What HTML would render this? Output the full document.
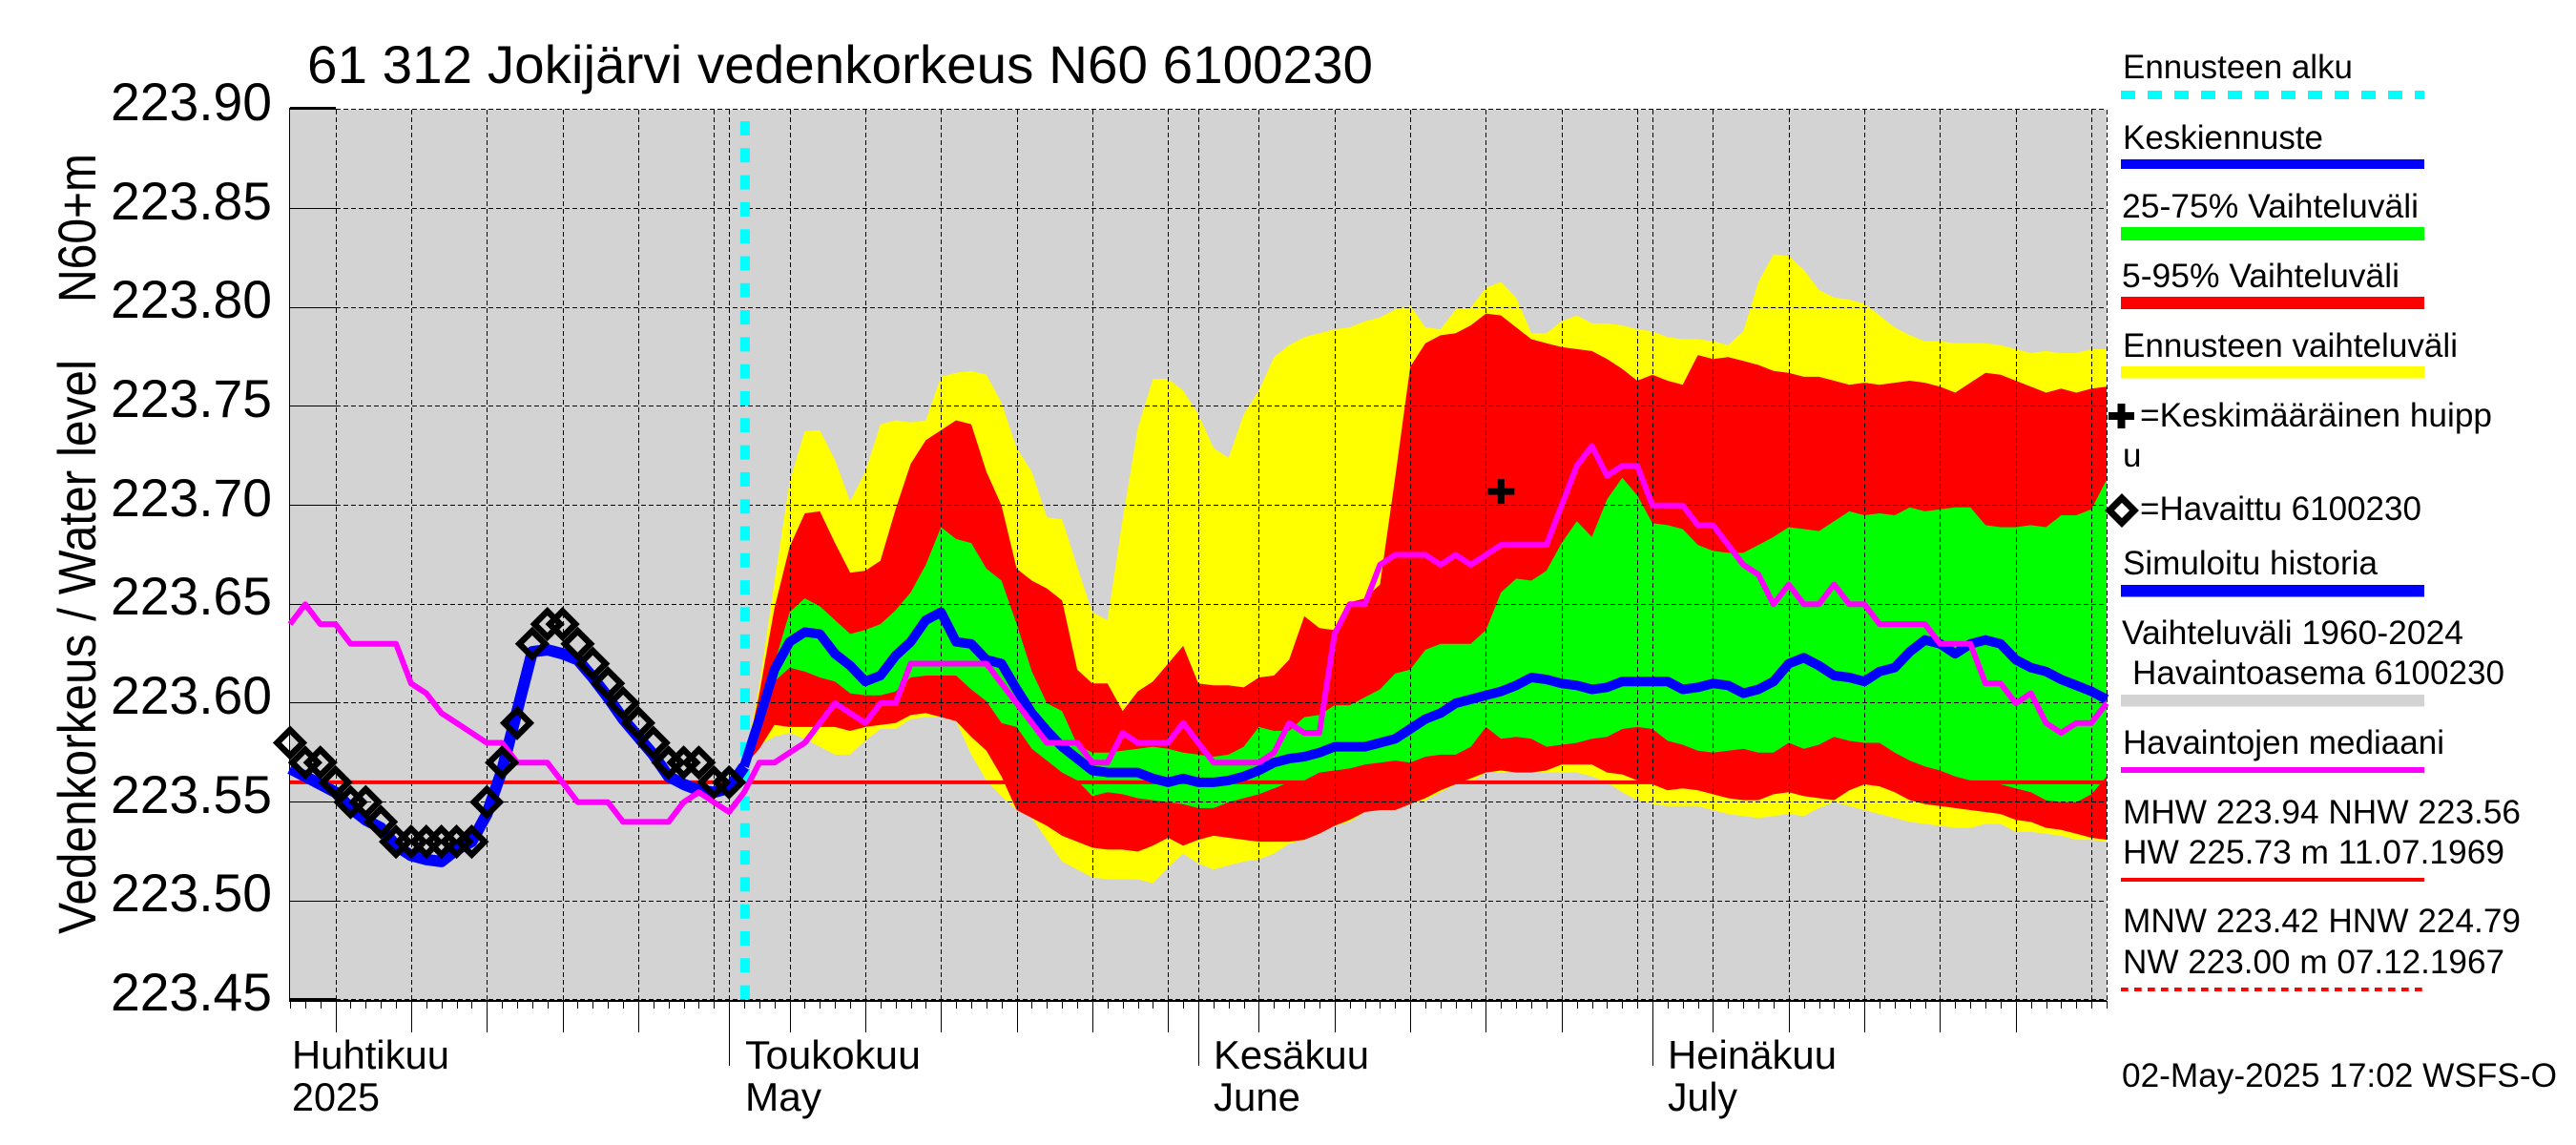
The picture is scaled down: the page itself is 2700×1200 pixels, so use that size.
<!DOCTYPE html>
<html lang="fi">
<head>
<meta charset="utf-8">
<title>61 312 Jokijärvi vedenkorkeus N60 6100230</title>
<style>
html,body{margin:0;padding:0;background:#fff;}
svg{display:block;font-family:"Liberation Sans",sans-serif;fill:#000;}
</style>
</head>
<body>
<svg id="chart" xmlns="http://www.w3.org/2000/svg" width="2700" height="1200" viewBox="0 0 2700 1200">
  <rect x="0" y="0" width="2700" height="1200" fill="#fff"/>
  <rect x="304" y="115" width="1904" height="933" fill="#d3d3d3"/>
  <g id="bands"></g>
  <g id="grid"></g>
  <g id="axes"></g>
  <g id="series"></g>

  <text x="322" y="87" font-size="56" textLength="1117" lengthAdjust="spacingAndGlyphs">61 312 Jokijärvi vedenkorkeus N60 6100230</text>
  <text transform="translate(100,979) rotate(-90) scale(1,1.13)" font-size="49" textLength="602" lengthAdjust="spacingAndGlyphs">Vedenkorkeus / Water level</text>
  <text transform="translate(100,317) rotate(-90) scale(1,1.13)" font-size="49" textLength="156" lengthAdjust="spacingAndGlyphs">N60+m</text>

  <g font-size="42">
    <text x="306" y="1120" textLength="165" lengthAdjust="spacingAndGlyphs">Huhtikuu</text>
    <text x="306" y="1164" textLength="92" lengthAdjust="spacingAndGlyphs">2025</text>
    <text x="781" y="1120" textLength="184" lengthAdjust="spacingAndGlyphs">Toukokuu</text>
    <text x="781" y="1164" textLength="80" lengthAdjust="spacingAndGlyphs">May</text>
    <text x="1272" y="1120" textLength="163" lengthAdjust="spacingAndGlyphs">Kesäkuu</text>
    <text x="1272" y="1164" textLength="91" lengthAdjust="spacingAndGlyphs">June</text>
    <text x="1748" y="1120" textLength="177" lengthAdjust="spacingAndGlyphs">Heinäkuu</text>
    <text x="1748" y="1164" textLength="73" lengthAdjust="spacingAndGlyphs">July</text>
  </g>

  <g font-size="35">
    <text x="2225" y="82" textLength="241" lengthAdjust="spacingAndGlyphs">Ennusteen alku</text>
    <line x1="2223" y1="99.5" x2="2541" y2="99.5" stroke="#00ffff" stroke-width="9" stroke-dasharray="15 13"/>
    <text x="2225" y="156" textLength="210" lengthAdjust="spacingAndGlyphs">Keskiennuste</text>
    <rect x="2223" y="167" width="318" height="10" fill="#0000ff"/>
    <text x="2224" y="228" textLength="311" lengthAdjust="spacingAndGlyphs">25-75% Vaihteluväli</text>
    <rect x="2223" y="238" width="318" height="14" fill="#00ff00"/>
    <text x="2224" y="301" textLength="291" lengthAdjust="spacingAndGlyphs">5-95% Vaihteluväli</text>
    <rect x="2223" y="311" width="318" height="13" fill="#ff0000"/>
    <text x="2225" y="374" textLength="351" lengthAdjust="spacingAndGlyphs">Ennusteen vaihteluväli</text>
    <rect x="2223" y="384" width="318" height="12.5" fill="#ffff00"/>
    <path d="M2210 436H2237M2223.5 423V449" stroke="#000" stroke-width="8" fill="none"/>
    <text x="2243" y="447" textLength="369" lengthAdjust="spacingAndGlyphs">=Keskimääräinen huipp</text>
    <text x="2225" y="489">u</text>
    <path d="M2224 522L2237 535L2224 548L2211 535Z" stroke="#000" stroke-width="7" fill="none"/>
    <text x="2243" y="545" textLength="295" lengthAdjust="spacingAndGlyphs">=Havaittu 6100230</text>
    <text x="2225" y="602" textLength="267" lengthAdjust="spacingAndGlyphs">Simuloitu historia</text>
    <rect x="2223" y="613" width="318" height="12.5" fill="#0000ff"/>
    <text x="2224" y="675" textLength="358" lengthAdjust="spacingAndGlyphs">Vaihteluväli 1960-2024</text>
    <text x="2235" y="717" textLength="390" lengthAdjust="spacingAndGlyphs">Havaintoasema 6100230</text>
    <rect x="2223" y="728" width="318" height="12.5" fill="#d3d3d3"/>
    <text x="2225" y="790" textLength="337" lengthAdjust="spacingAndGlyphs">Havaintojen mediaani</text>
    <rect x="2223" y="804" width="318" height="6" fill="#ff00ff"/>
    <text x="2225" y="863" textLength="417" lengthAdjust="spacingAndGlyphs">MHW 223.94 NHW 223.56</text>
    <text x="2225" y="905" textLength="400" lengthAdjust="spacingAndGlyphs">HW 225.73 m 11.07.1969</text>
    <rect x="2223" y="920" width="318" height="4" fill="#ff0000"/>
    <text x="2225" y="977" textLength="417" lengthAdjust="spacingAndGlyphs">MNW 223.42 HNW 224.79</text>
    <text x="2225" y="1020" textLength="400" lengthAdjust="spacingAndGlyphs">NW 223.00 m 07.12.1967</text>
    <line x1="2223" y1="1037" x2="2541" y2="1037" stroke="#ff0000" stroke-width="4" stroke-dasharray="7.7 6.3"/>
    <text x="2224" y="1139" textLength="456" lengthAdjust="spacingAndGlyphs">02-May-2025 17:02 WSFS-O</text>
  </g>
</svg>

<script>
// ---- chart data: days counted from 2 April 2025 (day 0) ----
const yTickLabels = ["223.90","223.85","223.80","223.75","223.70","223.65","223.60","223.55","223.50","223.45"];
const gridDays = [3,8,13,18,23,28,29,33,38,43,48,53,58,60,64,69,74,79,84,89,90,94,99,104,109,114,119,120];
const monthDays = [29,60,90];
const shortTickDays = [28,89,119,120];
const dayCount = 121;
const forecastStartDay = 30;
const referenceLevel = 223.56;
const peakDay = 80;
const peakLevel = 223.707;

const observed = [223.58,223.57,223.57,223.56,223.55,223.55,223.54,223.53,223.53,223.53,
  223.53,223.53,223.53,223.55,223.57,223.59,223.63,223.64,223.64,223.63,
  223.62,223.61,223.60,223.59,223.58,223.57,223.57,223.57,223.56,223.56];

const simulated = [223.567,223.563,223.559,223.555,223.547,223.541,223.537,223.528,223.523,223.521,
  223.520,223.526,223.530,223.544,223.566,223.596,223.626,223.627,223.625,223.622,
  223.613,223.603,223.592,223.583,223.574,223.563,223.559,223.556,223.555,223.557,223.568];

const median = [223.64,223.65,223.64,223.64,223.63,223.63,223.63,223.63,223.61,223.605,
  223.595,223.59,223.585,223.58,223.58,223.57,223.57,223.57,223.56,223.55,
  223.55,223.55,223.54,223.54,223.54,223.54,223.55,223.555,223.55,223.545,
  223.555,223.57,223.57,223.575,223.58,223.59,223.60,223.595,223.59,223.60,
  223.60,223.62,223.62,223.62,223.62,223.62,223.62,223.61,223.60,223.59,
  223.58,223.58,223.58,223.57,223.57,223.585,223.58,223.58,223.58,223.59,
  223.58,223.57,223.57,223.57,223.57,223.575,223.59,223.585,223.585,223.635,
  223.65,223.65,223.67,223.675,223.675,223.675,223.67,223.675,223.67,223.675,
  223.68,223.68,223.68,223.68,223.70,223.72,223.73,223.715,223.72,223.72,
  223.70,223.70,223.70,223.69,223.69,223.68,223.67,223.665,223.65,223.66,
  223.65,223.65,223.66,223.65,223.65,223.64,223.64,223.64,223.64,223.63,
  223.63,223.63,223.61,223.61,223.60,223.605,223.59,223.585,223.59,223.59,223.60];

// forecast arrays start at forecastStartDay
const meanForecast = [223.568,223.592,223.617,223.631,223.636,223.635,223.625,223.619,223.611,223.614,
  223.624,223.631,223.642,223.646,223.631,223.630,223.622,223.620,223.607,223.595,
  223.586,223.578,223.572,223.566,223.565,223.565,223.565,223.562,223.560,223.562,
  223.560,223.560,223.561,223.563,223.566,223.570,223.572,223.573,223.575,223.578,
  223.578,223.578,223.580,223.582,223.587,223.592,223.595,223.600,223.602,223.604,
  223.606,223.609,223.613,223.612,223.610,223.609,223.607,223.608,223.611,223.611,
  223.611,223.611,223.607,223.608,223.610,223.609,223.605,223.607,223.611,223.620,
  223.623,223.619,223.614,223.613,223.611,223.616,223.618,223.626,223.632,223.630,
  223.625,223.630,223.632,223.630,223.622,223.618,223.616,223.612,223.609,223.606,223.602];

const forecastMax = [223.568,223.609,223.661,223.712,223.7375,223.738,223.723,223.702,223.717,223.741,
  223.743,223.742,223.743,223.765,223.767,223.768,223.766,223.752,223.729,223.717,
  223.694,223.693,223.669,223.646,223.642,223.693,223.739,223.764,223.764,223.758,
  223.746,223.729,223.724,223.746,223.758,223.775,223.781,223.785,223.787,223.789,
  223.790,223.793,223.795,223.799,223.801,223.790,223.789,223.799,223.800,223.810,
  223.813,223.805,223.787,223.787,223.793,223.796,223.792,223.792,223.791,223.789,
  223.788,223.785,223.784,223.784,223.783,223.781,223.788,223.813,223.827,223.826,
  223.819,223.809,223.805,223.804,223.802,223.796,223.790,223.786,223.783,223.783,
  223.782,223.782,223.782,223.781,223.779,223.777,223.778,223.777,223.777,223.779,223.779];

const forecastMin = [223.568,223.579,223.583,223.585,223.582,223.578,223.574,223.574,223.581,223.587,
  223.587,223.592,223.593,223.593,223.591,223.574,223.561,223.553,223.546,223.542,
  223.531,223.520,223.516,223.512,223.511,223.511,223.511,223.509,223.517,223.524,
  223.519,223.516,223.518,223.520,223.521,223.524,223.529,223.531,223.534,223.538,
  223.540,223.545,223.546,223.546,223.549,223.551,223.555,223.559,223.560,223.565,
  223.565,223.565,223.565,223.565,223.565,223.565,223.563,223.560,223.555,223.551,
  223.549,223.548,223.548,223.548,223.546,223.544,223.543,223.542,223.543,223.544,
  223.543,223.547,223.550,223.548,223.546,223.544,223.542,223.540,223.539,223.538,
  223.537,223.537,223.539,223.539,223.535,223.535,223.534,223.533,223.531,223.531,223.530];

const p95 = [223.568,223.605,223.648,223.679,223.696,223.697,223.681,223.666,223.667,223.672,
  223.698,223.721,223.733,223.738,223.743,223.741,223.717,223.700,223.668,223.662,
  223.658,223.652,223.617,223.610,223.610,223.596,223.606,223.611,223.620,223.629,
  223.610,223.609,223.609,223.608,223.613,223.614,223.622,223.644,223.638,223.637,
  223.651,223.653,223.660,223.714,223.770,223.782,223.786,223.787,223.791,223.797,
  223.796,223.790,223.784,223.782,223.780,223.779,223.778,223.774,223.769,223.763,
  223.766,223.763,223.761,223.776,223.774,223.775,223.773,223.771,223.768,223.767,
  223.765,223.765,223.763,223.761,223.762,223.761,223.762,223.763,223.762,223.760,
  223.757,223.762,223.767,223.766,223.763,223.760,223.757,223.759,223.757,223.759,223.760];

const p5 = [223.568,223.577,223.589,223.588,223.588,223.588,223.588,223.586,223.588,223.589,
  223.590,223.594,223.595,223.593,223.591,223.583,223.576,223.563,223.546,223.542,
  223.538,223.533,223.530,223.527,223.526,223.526,223.525,223.528,223.532,223.528,
  223.531,223.533,223.532,223.531,223.530,223.530,223.530,223.531,223.534,223.538,
  223.541,223.545,223.546,223.546,223.549,223.552,223.556,223.559,223.562,223.565,
  223.566,223.565,223.565,223.566,223.569,223.569,223.569,223.565,223.564,223.561,
  223.559,223.556,223.557,223.556,223.554,223.552,223.551,223.551,223.554,223.555,
  223.553,223.552,223.551,223.556,223.559,223.558,223.555,223.551,223.549,223.548,
  223.547,223.546,223.545,223.544,223.541,223.540,223.537,223.536,223.534,223.532,223.531];

const p75 = [223.568,223.592,223.620,223.646,223.653,223.649,223.642,223.635,223.637,223.640,
  223.647,223.656,223.670,223.689,223.683,223.681,223.668,223.662,223.640,223.616,
  223.600,223.596,223.579,223.575,223.575,223.576,223.577,223.578,223.577,223.575,
  223.574,223.573,223.574,223.578,223.588,223.586,223.586,223.593,223.594,223.599,
  223.599,223.603,223.607,223.615,223.617,223.627,223.630,223.630,223.630,223.637,
  223.656,223.663,223.662,223.667,223.681,223.692,223.684,223.703,223.714,223.705,
  223.691,223.690,223.688,223.680,223.677,223.676,223.676,223.680,223.684,223.689,
  223.688,223.687,223.692,223.697,223.695,223.696,223.695,223.699,223.697,223.698,
  223.699,223.699,223.690,223.689,223.689,223.690,223.689,223.695,223.695,223.698,223.713];

const p25 = [223.568,223.590,223.611,223.618,223.616,223.613,223.611,223.605,223.604,223.604,
  223.606,223.613,223.614,223.614,223.614,223.607,223.601,223.590,223.588,223.577,
  223.571,223.565,223.561,223.553,223.555,223.554,223.552,223.551,223.550,223.549,
  223.547,223.547,223.550,223.552,223.554,223.557,223.560,223.561,223.565,223.566,
  223.567,223.569,223.570,223.571,223.570,223.573,223.574,223.574,223.578,223.588,
  223.582,223.583,223.582,223.578,223.579,223.580,223.582,223.583,223.587,223.588,
  223.587,223.581,223.579,223.576,223.575,223.576,223.577,223.575,223.575,223.580,
  223.577,223.579,223.583,223.581,223.580,223.580,223.575,223.571,223.568,223.566,
  223.563,223.561,223.560,223.559,223.557,223.555,223.551,223.550,223.550,223.554,223.563];

// ---- axis functions ----
const plotLeft = 304, plotRight = 2208, plotTop = 115, plotBottom = 1048;
const yMax = parseFloat(yTickLabels[0]);
const yMin = parseFloat(yTickLabels[yTickLabels.length - 1]);
function xScale(day) { return plotLeft + (plotRight - plotLeft) * day / (dayCount - 1); }
function yScale(value) { return plotTop + (plotBottom - plotTop) * (yMax - value) / (yMax - yMin); }
function yPixel(value) { return Math.floor(yScale(value) - 0.01) + 0.5; }
function xPixel(day) { return Math.round(xScale(day)) + 0.5; }

const NS = "http://www.w3.org/2000/svg";
function make(parent, tag, attrs) {
  const el = document.createElementNS(NS, tag);
  for (const k in attrs) el.setAttribute(k, attrs[k]);
  parent.appendChild(el);
  return el;
}
function linePoints(values, startDay) {
  return values.map(function (v, i) { return xScale(startDay + i).toFixed(1) + "," + yScale(v).toFixed(1); }).join(" ");
}
function bandPoints(upper, lower, startDay) {
  const top = upper.map(function (v, i) { return xScale(startDay + i).toFixed(1) + "," + yScale(v).toFixed(1); });
  const bottom = lower.map(function (v, i) { return xScale(startDay + i).toFixed(1) + "," + yScale(v).toFixed(1); }).reverse();
  return top.concat(bottom).join(" ");
}

const bandsG = document.getElementById("bands");
const gridG = document.getElementById("grid");
const axesG = document.getElementById("axes");
const seriesG = document.getElementById("series");

// ---- bands ----
const bandYellow = make(bandsG, "polygon", { points: bandPoints(forecastMax, forecastMin, forecastStartDay), fill: "#ffff00" });


const bandRed = make(bandsG, "polygon", { points: bandPoints(p95, p5, forecastStartDay), fill: "#ff0000" });


const bandGreen = make(bandsG, "polygon", { points: bandPoints(p75, p25, forecastStartDay), fill: "#00ff00" });



// ---- grid ----
yTickLabels.forEach(function (label) {
  const y = yPixel(parseFloat(label));
  const g = make(gridG, "line", { x1: plotLeft + 48, y1: y, x2: plotRight, y2: y, stroke: "#000", "stroke-width": 1, "stroke-dasharray": "5 3" });
  
  
});
gridDays.forEach(function (day) {
  const x = xPixel(day);
  const g = make(gridG, "line", { x1: x, y1: plotTop, x2: x, y2: plotBottom, stroke: "#000", "stroke-width": 1, "stroke-dasharray": "5 3" });
  
  
});

// ---- y axis ----
const yAxisLine = make(axesG, "line", { x1: plotLeft - 0.5, y1: plotTop - 2, x2: plotLeft - 0.5, y2: plotBottom + 2, stroke: "#000", "stroke-width": 1 });


yTickLabels.forEach(function (label, i) {
  const y = yPixel(parseFloat(label));
  const edge = i === 0 || i === yTickLabels.length - 1;
  const tick = make(axesG, "line", { x1: plotLeft, y1: i === 0 ? y - 1 : y, x2: plotLeft + 48, y2: i === 0 ? y - 1 : y, stroke: "#000", "stroke-width": edge ? 3 : 1 });
  
  
  const t = make(axesG, "text", { x: 285, y: Math.round(yScale(parseFloat(label))) + 11, "font-size": 56, "text-anchor": "end", textLength: 169, lengthAdjust: "spacingAndGlyphs" });
  t.textContent = label;
  
  
});

// ---- x axis ----
const xAxisLine = make(axesG, "line", { x1: plotLeft, y1: plotBottom + 1, x2: plotRight, y2: plotBottom + 1, stroke: "#000", "stroke-width": 2 });


for (let day = 0; day < dayCount; day++) {
  let bottom = 1057;
  if (gridDays.indexOf(day) >= 0 && shortTickDays.indexOf(day) < 0) bottom = 1082;
  if (monthDays.indexOf(day) >= 0) bottom = 1117;
  const x = xPixel(day);
  const tick = make(axesG, "line", { x1: x, y1: plotBottom + 1, x2: x, y2: bottom, stroke: "#000", "stroke-width": 1 });
  
  
}

// ---- reference, forecast-start, series ----
const refLine = make(seriesG, "line", { x1: plotLeft, y1: yScale(referenceLevel), x2: plotRight, y2: yScale(referenceLevel), stroke: "#ff0000", "stroke-width": 4 });


const forecastStartLine = make(seriesG, "line", { x1: xScale(forecastStartDay) + 0.9, y1: 127, x2: xScale(forecastStartDay) + 0.9, y2: plotBottom, stroke: "#00ffff", "stroke-width": 10, "stroke-dasharray": "15 13.3" });


const simLine = make(seriesG, "polyline", { points: linePoints(simulated, 0), fill: "none", stroke: "#0000ff", "stroke-width": 12, "stroke-linejoin": "round" });


const meanLine = make(seriesG, "polyline", { points: linePoints(meanForecast, forecastStartDay), fill: "none", stroke: "#0000ff", "stroke-width": 10, "stroke-linejoin": "round" });


const medianLine = make(seriesG, "polyline", { points: linePoints(median, 0), fill: "none", stroke: "#ff00ff", "stroke-width": 6, "stroke-linejoin": "round" });



const px = xScale(peakDay), py = yScale(peakLevel);
const peakMarker = make(seriesG, "path", { d: "M" + (px - 14) + " " + py + "H" + (px + 14) + "M" + px + " " + (py - 13) + "V" + (py + 13), stroke: "#000", "stroke-width": 7, fill: "none" });



observed.forEach(function (v, i) {
  const x = xScale(i), y = yScale(v), r = 13.5;
  const d = make(seriesG, "path", { d: "M" + x + " " + (y - r) + "L" + (x + r) + " " + y + "L" + x + " " + (y + r) + "L" + (x - r) + " " + y + "Z", fill: "none", stroke: "#000", "stroke-width": 6.5 });
  
  
});
</script>
</body>
</html>
